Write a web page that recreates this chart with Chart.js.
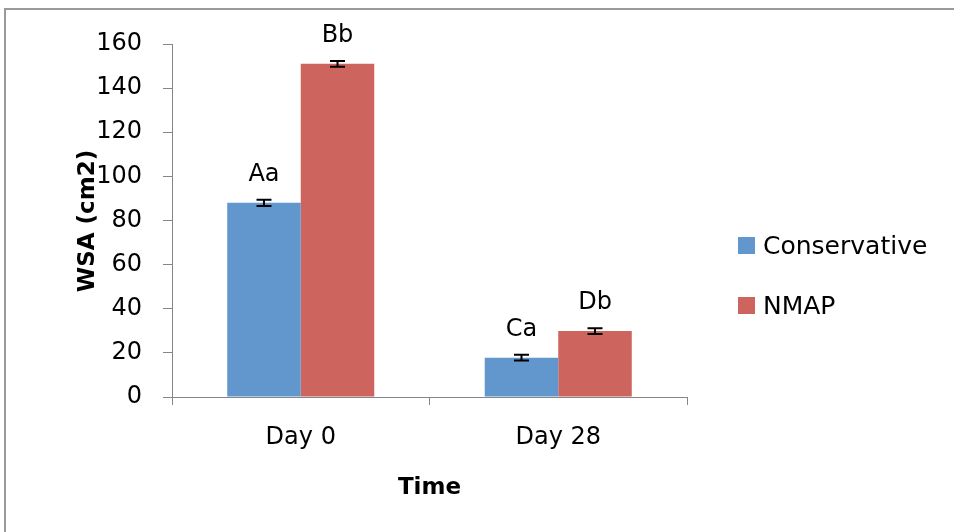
<!DOCTYPE html>
<html>
<head>
<meta charset="utf-8">
<script src="https://cdn.jsdelivr.net/npm/chart.js@4"></script>
<style>
  html, body { margin: 0; padding: 0; background: #fff; }
  #wrap { width: 954px; height: 532px; }
</style>
</head>
<body>
<div id="wrap"><canvas id="wsaChart" width="954" height="532"></canvas></div>
<script>
// --- data ---
const categories = ['Day 0', 'Day 28'];
const seriesNames = ['Conservative', 'NMAP'];
const conservativeValues = [88, 17.8];
const nmapValues = [151, 29.9];
const conservativeErrors = [1.4, 1.3];
const nmapErrors = [1.3, 1.3];
const conservativeLetters = ['Aa', 'Ca'];
const nmapLetters = ['Bb', 'Db'];
const yTicks = [0, 20, 40, 60, 80, 100, 120, 140, 160];

const BLUE = '#6197CC';
const RED = '#CD645D';
const AXIS = '#868686';
const FONT = 'DejaVu Sans';

// frame, titles, legend, error bars and letter labels
const extras = {
    id: 'extras',
    beforeDraw(chart) {
        const ctx = chart.ctx;
        ctx.save();
        ctx.fillStyle = '#fff';
        ctx.fillRect(0, 0, chart.width, chart.height);
        ctx.strokeStyle = '#9a9a9a';
        ctx.lineWidth = 2;
        ctx.beginPath();
        ctx.moveTo(5, chart.height);
        ctx.lineTo(5, 9);
        ctx.lineTo(chart.width, 9);
        ctx.stroke();
        ctx.restore();
    },
    afterDatasetsDraw(chart) {
        const ctx = chart.ctx;
        const y = chart.scales.y;
        const errs = [conservativeErrors, nmapErrors];
        const letters = [conservativeLetters, nmapLetters];
        ctx.save();
        chart.data.datasets.forEach((ds, di) => {
            chart.getDatasetMeta(di).data.forEach((bar, i) => {
                const v = ds.data[i];
                const top = y.getPixelForValue(v + errs[di][i]);
                const bot = y.getPixelForValue(v - errs[di][i]);
                ctx.strokeStyle = '#000';
                ctx.lineWidth = 2;
                ctx.beginPath();
                ctx.moveTo(bar.x, top); ctx.lineTo(bar.x, bot);
                ctx.moveTo(bar.x - 7.5, top); ctx.lineTo(bar.x + 7.5, top);
                ctx.moveTo(bar.x - 7.5, bot); ctx.lineTo(bar.x + 7.5, bot);
                ctx.stroke();

                ctx.fillStyle = '#000';
                ctx.font = `24px "${FONT}"`;
                ctx.textAlign = 'center';
                ctx.textBaseline = 'middle';
                ctx.fillText(letters[di][i], bar.x, y.getPixelForValue(v) - 28);
            });
        });
        ctx.restore();
    },
    afterDraw(chart) {
        const ctx = chart.ctx;
        const area = chart.chartArea;
        ctx.save();
        ctx.fillStyle = '#000';
        ctx.font = `bold 23px "${FONT}"`;
        ctx.textAlign = 'center';
        ctx.textBaseline = 'middle';
        ctx.fillText('Time', (area.left + area.right) / 2, 488);
        ctx.translate(88, 221);
        ctx.rotate(-Math.PI / 2);
        ctx.fillText('WSA (cm2)', 0, 0);
        ctx.restore();

        // legend
        ctx.save();
        const colors = [BLUE, RED];
        seriesNames.forEach((name, i) => {
            const cy = 246 + i * 60;
            ctx.fillStyle = colors[i];
            ctx.fillRect(738, cy - 9, 17, 17);
            ctx.fillStyle = '#000';
            ctx.font = `25px "${FONT}"`;
            ctx.textAlign = 'left';
            ctx.textBaseline = 'middle';
            ctx.fillText(name, 763, cy + 1);
        });
        ctx.restore();
    }
};

new Chart(document.getElementById('wsaChart'), {
    type: 'bar',
    data: {
        labels: categories,
        datasets: [
            { label: seriesNames[0], data: conservativeValues, backgroundColor: BLUE },
            { label: seriesNames[1], data: nmapValues, backgroundColor: RED }
        ]
    },
    options: {
        responsive: false,
        animation: false,
        devicePixelRatio: 1,
        categoryPercentage: 0.571,
        barPercentage: 1,
        layout: { padding: { top: 44, right: 267, left: 0, bottom: 0 } },
        plugins: {
            legend: { display: false },
            tooltip: { enabled: false }
        },
        scales: {
            x: {
                grid: { drawOnChartArea: false, offset: true, tickLength: 8, color: AXIS },
                border: { color: AXIS, width: 1 },
                ticks: { color: '#000', padding: 18, font: { family: FONT, size: 24 } },
                afterFit: (scale) => { scale.height = 135; }
            },
            y: {
                min: 0,
                max: 160,
                afterBuildTicks: (scale) => { scale.ticks = yTicks.map(v => ({ value: v })); },
                grid: { drawOnChartArea: false, tickLength: 9, color: AXIS },
                border: { color: AXIS, width: 1 },
                ticks: { color: '#000', padding: 21, font: { family: FONT, size: 24 } },
                afterFit: (scale) => { scale.width = 172; }
            }
        }
    },
    plugins: [extras]
});
</script>
</body>
</html>
